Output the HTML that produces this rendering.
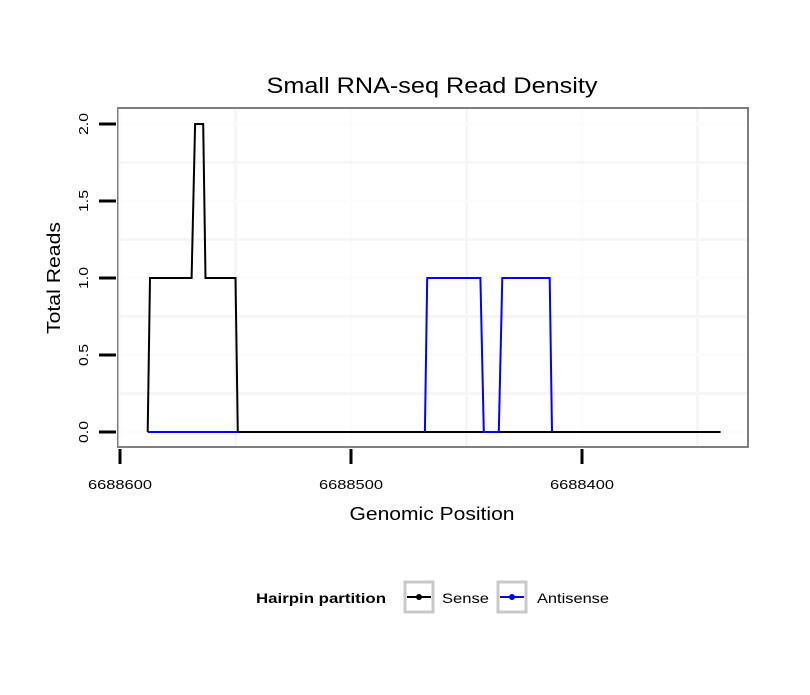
<!DOCTYPE html>
<html><head><meta charset="utf-8"><style>
body{margin:0;background:#fff;font-family:"Liberation Sans",sans-serif;}
</style></head><body>
<svg id="c" width="810" height="690" xmlns="http://www.w3.org/2000/svg">
<text x="432" y="93" text-anchor="middle" font-size="22" textLength="331" lengthAdjust="spacingAndGlyphs" fill="#000">Small RNA-seq Read Density</text>
<rect x="118" y="108" width="630" height="339" fill="#fff" stroke="#7f7f7f" stroke-width="2"/>
<g id="grid"></g><g id="series"></g><g id="axes"></g>
<text x="432" y="520" text-anchor="middle" font-size="18" textLength="165" lengthAdjust="spacingAndGlyphs">Genomic Position</text>
<text transform="translate(60,278) rotate(-90)" text-anchor="middle" font-size="18" textLength="112" lengthAdjust="spacingAndGlyphs">Total Reads</text>
<g>
<text x="256" y="603" font-size="14" font-weight="bold" textLength="130" lengthAdjust="spacingAndGlyphs">Hairpin partition</text>
<g>
<rect x="405" y="582" width="28" height="30" fill="#fff" stroke="#c8c8c8" stroke-width="3"/>
<line x1="407" y1="597" x2="431" y2="597" stroke="#000" stroke-width="2"/><circle cx="419" cy="597" r="3" fill="#000"/>
<text x="442" y="603" font-size="14" textLength="47" lengthAdjust="spacingAndGlyphs">Sense</text></g>
<g>
<rect x="498" y="582" width="28" height="30" fill="#fff" stroke="#c8c8c8" stroke-width="3"/>
<line x1="500" y1="597" x2="524" y2="597" stroke="#0000ff" stroke-width="2"/><circle cx="512" cy="597" r="3" fill="#0000ff"/>
<text x="537" y="603" font-size="14" textLength="72" lengthAdjust="spacingAndGlyphs">Antisense</text></g>
</g>
</svg>
<script>
const senseX=[6688588,6688587,6688569,6688567.5,6688564,6688563,6688550,6688549,6688340];
const senseY=[0,1,1,2,2,1,1,0,0];
const antiX=[6688588,6688549,null,6688468,6688467,6688444,6688442.5,6688436,6688434.5,6688414,6688413];
const antiY=[0,0,null,0,1,1,0,0,1,1,0];
const xTicks=[6688600,6688500,6688400];
const yTicks=[0,0.5,1,1.5,2];
const NS="http://www.w3.org/2000/svg";
const sx=v=>120+(6688600-v)*2.31;
const sy=v=>432-v*154;
function mk(tag,attrs,parent){const e=document.createElementNS(NS,tag);for(const k in attrs)e.setAttribute(k,attrs[k]);parent.appendChild(e);return e;}
const grid=document.getElementById('grid'),axes=document.getElementById('axes'),ser=document.getElementById('series');
for(let v=6688650;v>=6688340;v-=50){const x=sx(v);if(x<119||x>747)continue;
 const l=mk('line',{x1:x,x2:x,y1:109,y2:446,stroke:(v%100===0)?'#fcfcfc':'#f6f6f6','stroke-width':3},grid);
 }
for(let v=-0.25;v<=2.25;v+=0.25){const y=sy(v);if(y<109||y>446)continue;
 const l=mk('line',{x1:119,x2:747,y1:y,y2:y,stroke:(v*2%1===0)?'#fcfcfc':'#f6f6f6','stroke-width':3},grid);
 }
xTicks.forEach(v=>{const x=sx(v);
 const t=mk('line',{x1:x,x2:x,y1:449,y2:464,stroke:'#000','stroke-width':3},axes);
 
 const tx=mk('text',{x:x,y:489,'text-anchor':'middle','font-size':13,textLength:64,lengthAdjust:'spacingAndGlyphs'},axes);tx.textContent=v;
 });
yTicks.forEach(v=>{const y=sy(v);
 const t=mk('line',{x1:99,x2:116,y1:y,y2:y,stroke:'#000','stroke-width':3},axes);
 
 const tx=mk('text',{transform:`translate(88,${y}) rotate(-90)`,'text-anchor':'middle','font-size':13,textLength:22,lengthAdjust:'spacingAndGlyphs'},axes);tx.textContent=v.toFixed(1);
 });
function path(xs,ys){let d='',pen=false;xs.forEach((x,i)=>{if(x===null){pen=false;return;}d+=(pen?'L':'M')+sx(x).toFixed(1)+','+sy(ys[i]).toFixed(1);pen=true;});return d;}
const ps=mk('path',{d:path(senseX,senseY),fill:'none',stroke:'#000','stroke-width':2},ser);

const pa=mk('path',{d:path(antiX,antiY),fill:'none',stroke:'#0000ff','stroke-width':2},ser);

</script>
</body></html>
